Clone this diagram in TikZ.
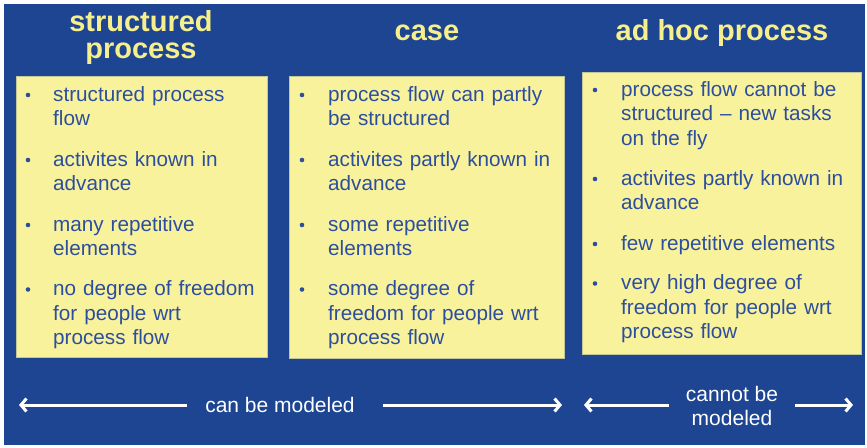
\documentclass[tikz,border=0pt]{standalone}
\usepackage{fontspec}
\setmainfont{Liberation Sans}
\usetikzlibrary{arrows.meta}
\definecolor{bgblue}{HTML}{1D4592}
\definecolor{boxyellow}{HTML}{F9F29D}
\definecolor{titleyellow}{HTML}{F7EF8C}
\definecolor{txtblue}{HTML}{2C4E9E}
\begin{document}
\begin{tikzpicture}[x=1pt,y=-1pt,
  panel/.style={fill=boxyellow, draw=boxyellow!75!bgblue, line width=0.5pt, anchor=north west, inner sep=0pt, outer sep=0pt},
  title/.style={font=\bfseries\fontsize{29}{27}\selectfont, text=titleyellow, align=center, inner sep=0pt},
  item/.style={font=\fontsize{20.7}{24.5}\selectfont, text=txtblue, text width=240pt, align=left, anchor=base west, inner sep=0pt},
  dot/.style={circle, fill=txtblue, inner sep=0pt, minimum size=4.6pt},
  note/.style={font=\fontsize{21}{24.5}\selectfont, text=white, align=center, inner sep=0pt},
  arr/.style={draw=white, line width=3pt, -{Straight Barb[length=5.5pt,width=13pt]}}]
\useasboundingbox (0,0) rectangle (867,447);
\fill[white] (0,0) rectangle (867,447);
\fill[bgblue] (4,4) rectangle (865,445);

% titles
\node[title] (t1) at (141,38) {structured\\process};
\node[title, anchor=base] (t2) at (427,40) {case};
\node[title, anchor=base] (t3) at (722,40) {ad hoc process};

% panels
\node[panel, minimum width=251pt, minimum height=281pt] (p1) at (16,76) {};
\node[panel, minimum width=275pt, minimum height=282pt] (p2) at (289,76) {};
\node[panel, minimum width=279pt, minimum height=282pt] (p3) at (582,72) {};

% column 1
\node[dot] (d11) at (28,95) {};
\node[item] (i11) at (53,101) {structured process\\flow};
\node[dot] (d12) at (28,160) {};
\node[item] (i12) at (53,166) {activites known in\\advance};
\node[dot] (d13) at (28,225) {};
\node[item] (i13) at (53,231) {many repetitive\\elements};
\node[dot] (d14) at (28,289.5) {};
\node[item] (i14) at (53,295.5) {no degree of freedom\\for people wrt\\process flow};

% column 2
\node[dot] (d21) at (302,95) {};
\node[item] (i21) at (328,101) {process flow can partly\\be structured};
\node[dot] (d22) at (302,160) {};
\node[item] (i22) at (328,166) {activites partly known in\\advance};
\node[dot] (d23) at (302,225) {};
\node[item] (i23) at (328,231) {some repetitive\\elements};
\node[dot] (d24) at (302,289.5) {};
\node[item] (i24) at (328,295.5) {some degree of\\freedom for people wrt\\process flow};

% column 3
\node[dot] (d31) at (595,90) {};
\node[item] (i31) at (621,96) {process flow cannot be\\structured -- new tasks\\on the fly};
\node[dot] (d32) at (595,179) {};
\node[item] (i32) at (621,185) {activites partly known in\\advance};
\node[dot] (d33) at (595,244) {};
\node[item] (i33) at (621,250) {few repetitive elements};
\node[dot] (d34) at (595,283.5) {};
\node[item] (i34) at (621,289.5) {very high degree of\\freedom for people wrt\\process flow};

% bottom labels and arrows
\node[note] (cbm) at (280,405) {can be modeled};
\node[note] (cnbm) at (732,406) {cannot be\\modeled};
\coordinate (l1) at (19,405);
\coordinate (l2) at (562,405);
\coordinate (r1) at (584,405);
\coordinate (r2) at (853,405);
\draw[arr] ([xshift=-18pt]cbm.west) -- (l1);
\draw[arr] ([xshift=28pt]cbm.east) -- (l2);
\draw[arr] ([xshift=-17pt,yshift=1pt]cnbm.west) -- (r1);
\draw[arr] ([xshift=17pt,yshift=1pt]cnbm.east) -- (r2);
\end{tikzpicture}
\end{document}
